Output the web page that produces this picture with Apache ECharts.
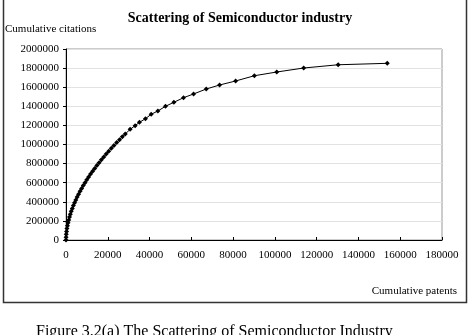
<!DOCTYPE html>
<html>
<head>
<meta charset="utf-8">
<script src="https://cdn.jsdelivr.net/npm/echarts@6/dist/echarts.min.js"></script>
<style>
  html, body { margin: 0; padding: 0; background: #fff; }
  #chart { width: 472px; height: 335px; }
</style>
</head>
<body>
<div id="chart"></div>
<script>
// cumulative patents (x) and cumulative citations (y)
const patents = [
  0, 36, 128, 272, 463, 700, 980, 1304, 1668, 2075, 2522, 3007, 3533, 4096,
  4699, 5339, 6015, 6729, 7478, 8269, 9091, 9949, 10843, 11770, 12737, 13730,
  14770, 15838, 16940, 18073, 19248, 20450, 21680, 22950, 24270, 25600, 26960,
  28370, 30700, 33090, 35160, 38030, 40770, 43980, 47630, 51650, 56260, 61060,
  67150, 73520, 81200, 90170, 100900, 113800, 130300, 153800
];
const citations = [
  0, 30000, 60000, 90000, 120000, 150000, 180000, 210000, 240000, 270000,
  300000, 330000, 360000, 390000, 420000, 450000, 480000, 510000, 540000,
  570000, 600000, 630000, 660000, 690000, 720000, 750000, 780000, 810000,
  840000, 870000, 900000, 930000, 960000, 990000, 1020000, 1050000, 1080000,
  1110000, 1159000, 1197000, 1232000, 1270000, 1316000, 1351000, 1400000,
  1442000, 1490000, 1529000, 1581000, 1623000, 1665000, 1720000, 1759000,
  1801000, 1835000, 1850000
];
const xTicks = [0, 180000, 20000];   // min, max, interval
const yTicks = [0, 2000000, 200000];

const font = "'Liberation Serif', 'DejaVu Serif', serif";
const chart = echarts.init(document.getElementById("chart"));

chart.setOption({
  animation: false,
  backgroundColor: "#fff",
  title: {
    text: "Scattering of Semiconductor industry",
    left: 235,
    textAlign: "center",
    top: 6,
    textStyle: { fontFamily: font, fontSize: 14, fontWeight: "bold", color: "#000" },
  },
  grid: { left: 66, right: 30, top: 49, bottom: 95, show: true, borderColor: "#999", borderWidth: 1 },
  xAxis: {
    type: "value",
    min: xTicks[0],
    max: xTicks[1],
    interval: xTicks[2],
    axisLine: { lineStyle: { color: "#000", width: 1 } },
    axisTick: { inside: true, length: 3, lineStyle: { color: "#000" } },
    axisLabel: { fontFamily: font, fontSize: 11, color: "#000", margin: 10, formatter: (v) => String(v) },
    splitLine: { show: false },
  },
  yAxis: {
    type: "value",
    min: yTicks[0],
    max: yTicks[1],
    interval: yTicks[2],
    axisLine: { show: true, lineStyle: { color: "#000", width: 1 } },
    axisTick: { show: true, length: 3, lineStyle: { color: "#000" } },
    axisLabel: { fontFamily: font, fontSize: 11, color: "#000", margin: 7, formatter: (v) => String(v) },
    splitLine: { lineStyle: { color: "#e2e2e2", width: 1 } },
  },
  graphic: [
    {
      type: "rect",
      shape: { x: 3.5, y: -2, width: 463, height: 304.5 },
      style: { fill: null, stroke: "#333", lineWidth: 1.5 },
      silent: true,
    },
    {
      type: "text",
      left: 5,
      top: 24,
      style: { text: "Cumulative citations", font: "11px " + font, fill: "#000" },
    },
    {
      type: "text",
      right: 15,
      top: 286,
      style: { text: "Cumulative patents", font: "11px " + font, fill: "#000" },
    },
    {
      type: "text",
      left: 36,
      top: 324,
      style: { text: "Figure 3.2(a) The Scattering of Semiconductor Industry", font: "16px " + font, fill: "#000" },
    },
  ],
  series: [
    {
      type: "line",
      data: patents.map((p, i) => [p, citations[i]]),
      symbol: "diamond",
      symbolSize: 5,
      showSymbol: true,
      lineStyle: { color: "#000", width: 1 },
      itemStyle: { color: "#000" },
    },
  ],
});
</script>
</body>
</html>
